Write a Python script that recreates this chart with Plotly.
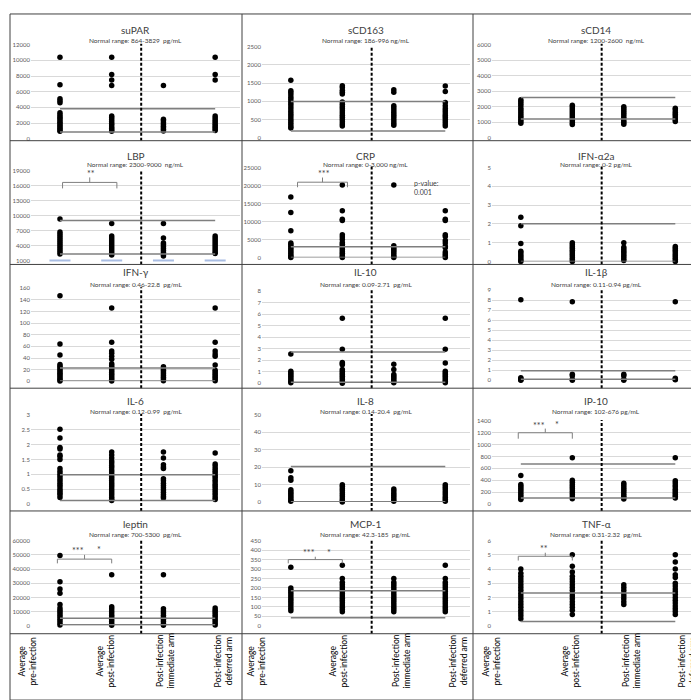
import plotly.graph_objects as go

# ---- data ----
SUPAR_PRE = [10400, 6900, 5100, 4850, 4600, 3300, 3050, 2800, 2600, 2350, 2100, 1900, 1700, 1500, 1300, 1100, 950]
SUPAR_POST = [10400, 8200, 7500, 6800, 2900, 2700, 2450, 2200, 1950, 1750, 1500, 1300, 1100, 950]
SUPAR_IMM = [6800, 2500, 2300, 2050, 1800, 1600, 1400, 1200, 1000]
SUPAR_DEF = [10400, 8200, 7500, 2900, 2650, 2400, 2150, 1900, 1700, 1450, 1250, 1050]

SCD163_PRE = [1580, 1290, 1240, 1180, 1110, 1050, 980, 920, 850, 790, 720, 660, 600, 540, 480, 420, 360, 300, 270]
SCD163_POST = [1430, 1380, 1300, 1250, 1200, 980, 920, 860, 800, 740, 680, 620, 560, 500, 440, 380, 320]
SCD163_IMM = [1320, 1250, 880, 820, 760, 700, 640, 580, 520, 460, 400, 340]
SCD163_DEF = [1420, 1270, 970, 880, 800, 740, 680, 620, 560, 500, 440, 380, 320]

SCD14_PRE = [2450, 2330, 2200, 2080, 1920, 1800, 1680, 1550, 1420, 1300, 1180, 1060, 930]
SCD14_POST = [2100, 1980, 1850, 1720, 1600, 1470, 1340, 1210, 1090, 960, 860]
SCD14_IMM = [2000, 1880, 1750, 1620, 1490, 1360, 1230, 1100, 980, 870]
SCD14_DEF = [1900, 1780, 1650, 1520, 1400, 1280, 1160, 1050]

LBP_PRE = [9300, 6700, 6300, 5900, 5500, 5100, 4700, 4300, 3900, 3500, 3100, 2700, 2300]
LBP_POST = [8400, 5900, 5500, 5100, 4700, 4300, 3900, 3500, 3100, 2700, 2300, 2100]
LBP_IMM = [8400, 5500, 4500, 4200, 3800, 3400, 3000, 2600, 2200, 1900]
LBP_DEF = [5900, 5500, 5100, 4700, 4300, 3900, 3500, 3100, 2700, 2400]
LBP_BASE = [1000, 1000, 1000, 1000]

CRP_PRE = [16800, 12500, 7400, 4000, 3600, 3100, 2600, 2100, 1600, 1100, 600, 200, 0]
CRP_POST = [20100, 13000, 10600, 10300, 6300, 5700, 5000, 4200, 3700, 3200, 2700, 2200, 1700, 1200, 700, 300, 0]
CRP_IMM = [20100, 3300, 2800, 2300, 1800, 1300, 800, 300, 0]
CRP_DEF = [13000, 10600, 10300, 6300, 5800, 4700, 4000, 3100, 2700, 1500, 1000, 500, 0]

IFNA_PRE = [2.35, 1.9, 0.95, 0.55, 0.45, 0.35, 0.25, 0.15, 0.05, 0.0]
IFNA_POST = [1.0, 0.9, 0.8, 0.7, 0.6, 0.5, 0.4, 0.3, 0.2, 0.1, 0.0]
IFNA_IMM = [1.0, 0.75, 0.65, 0.55, 0.45, 0.35, 0.25, 0.15, 0.05]
IFNA_DEF = [0.8, 0.7, 0.6, 0.5, 0.4, 0.3, 0.2, 0.1, 0.0]

IFNG_PRE = [147, 64, 45, 29, 26, 23, 20, 17, 14, 11, 8, 5, 2, 0.5]
IFNG_POST = [126, 67, 52, 48, 43, 38, 30, 27, 24, 21, 18, 15, 12, 9, 6, 3, 0.5]
IFNG_IMM = [25, 22, 19, 16, 13, 10, 7, 4, 1]
IFNG_DEF = [126, 67, 52, 47, 43, 28, 19, 16, 13, 10, 7, 4, 1]

IL10_PRE = [2.55, 1.05, 0.9, 0.75, 0.6, 0.45, 0.3, 0.15, 0.05]
IL10_POST = [5.65, 2.95, 1.8, 1.7, 1.6, 1.2, 1.05, 0.9, 0.75, 0.6, 0.45, 0.3, 0.15, 0.0]
IL10_IMM = [1.65, 1.2, 0.75, 0.6, 0.45, 0.3, 0.15, 0.05]
IL10_DEF = [5.65, 2.95, 1.75, 1.05, 0.9, 0.75, 0.6, 0.45, 0.3, 0.15, 0.05]

IL1B_PRE = [8.05, 0.25, 0.15, 0.05, 0.0]
IL1B_POST = [7.85, 0.6, 0.45, 0.1, 0.0]
IL1B_IMM = [0.6, 0.45, 0.1, 0.0]
IL1B_DEF = [7.85, 0.2, 0.1, 0.05]

IL6_PRE = [2.52, 2.22, 1.9, 1.85, 1.65, 1.6, 1.5, 1.2, 1.1, 1.02, 0.95, 0.88, 0.8, 0.72, 0.65,
           0.58, 0.5, 0.43, 0.36, 0.3, 0.22]
IL6_POST = [1.75, 1.65, 1.55, 1.45, 1.38, 1.3, 1.23, 1.15, 1.08, 1.0, 0.93, 0.86, 0.79, 0.72,
            0.65, 0.58, 0.51, 0.44, 0.37, 0.3, 0.23, 0.16, 0.12]
IL6_IMM = [1.75, 1.55, 1.32, 1.25, 1.2, 0.85, 0.78, 0.7, 0.62, 0.55, 0.47, 0.4, 0.32, 0.25, 0.2]
IL6_DEF = [1.72, 1.35, 1.28, 1.2, 1.12, 1.05, 0.97, 0.9, 0.82, 0.75, 0.67, 0.6, 0.52, 0.45,
           0.37, 0.3, 0.22, 0.15]

IL8_PRE = [18, 14, 12.5, 7, 6, 5, 4, 3, 2, 1, 0.5]
IL8_POST = [10, 9, 7.8, 6.6, 5.4, 4.2, 3, 1.8, 0.6, 0]
IL8_IMM = [7.5, 6.3, 5.1, 3.9, 2.7, 1.5, 0.5]
IL8_DEF = [10, 8.8, 7.6, 6.4, 5.2, 4, 2.8, 1.6, 0.5]

IP10_PRE = [480, 330, 300, 265, 230, 195, 160, 125, 95, 75]
IP10_POST = [780, 400, 365, 330, 295, 260, 225, 190, 155, 120, 90]
IP10_IMM = [350, 315, 280, 245, 210, 175, 140, 110, 85]
IP10_DEF = [780, 390, 360, 320, 290, 250, 220, 190, 160, 130, 100]

LEPTIN_PRE = [49500, 31000, 26000, 23000, 15000, 12500, 11000, 9500, 8000, 6500, 5000, 3500, 2000, 500]
LEPTIN_POST = [36000, 13500, 12000, 10500, 9000, 7500, 6000, 4500, 3000, 1500, 300]
LEPTIN_IMM = [36000, 12000, 10500, 9000, 7500, 6000, 4500, 3000, 1500, 300]
LEPTIN_DEF = [12500, 11000, 9500, 8000, 6500, 5000, 3500, 2000, 500]

MCP1_PRE = [310, 200, 188, 176, 164, 152, 140, 128, 116, 104, 92, 80]
MCP1_POST = [320, 250, 230, 218, 206, 194, 182, 170, 158, 146, 134, 122, 110, 98, 86, 74]
MCP1_IMM = [250, 230, 218, 206, 194, 182, 170, 158, 146, 134, 122, 110, 98, 86, 74]
MCP1_DEF = [320, 250, 230, 218, 206, 194, 182, 170, 158, 146, 134, 122, 110, 98, 86, 74]

TNF_PRE = [4.0, 3.7, 3.5, 3.3, 3.1, 2.9, 2.7, 2.5, 2.3, 2.1, 1.9, 1.7, 1.5, 1.3, 1.1, 0.9, 0.7, 0.5]
TNF_POST = [5.0, 4.2, 3.8, 3.5, 3.3, 3.1, 2.9, 2.7, 2.5, 2.3, 2.1, 1.9, 1.7, 1.5, 1.3, 1.1, 0.8]
TNF_IMM = [2.9, 2.7, 2.5, 2.3, 2.1, 1.9, 1.7, 1.5]
TNF_DEF = [5.0, 4.5, 4.0, 3.6, 3.4, 3.0, 2.8, 2.6, 2.4, 2.2, 2.0, 1.8, 1.6, 1.4, 1.2, 1.0, 0.8]

CATEGORIES = ["Average<br>pre-infection", "Average<br>post-infection",
              "Post-infection<br>immediate arm", "Post-infection<br>deferred arm"]

TITLES = ["suPAR", "sCD163", "sCD14", "LBP", "CRP", "IFN-α2a", "IFN-γ", "IL-10", "IL-1β",
          "IL-6", "IL-8", "IP-10", "leptin", "MCP-1", "TNF-α"]
NORMAL_TEXT = ["864-3829  pg/mL", "186-996 ng/mL", "1200-2600  ng/mL", "2300-9000  ng/mL",
               "0-3,000 ng/mL", "0-2 pg/mL", "0.46-22.8  pg/mL", "0.09-2.71  pg/mL",
               "0.11-0.94 pg/mL", "0.12-0.99  pg/mL", "0.14-20.4  pg/mL", "102-676 pg/mL",
               "700-5300  pg/mL", "42.3-185  pg/mL", "0.31-2.32  pg/mL"]
NORMAL_LO = [864, 186, 1200, 2300, 0, 0, 0.46, 0.09, 0.11, 0.12, 0.14, 102, 700, 42.3, 0.31]
NORMAL_HI = [3829, 996, 2600, 9000, 3000, 2, 22.8, 2.71, 0.94, 0.99, 20.4, 676, 5300, 185, 2.32]
Y_MIN = [0, 0, 0, 1000, 0, 0, 0, 0, 0, 0, 0, 0, 0, 0, 0]
Y_MAX = [12000, 2500, 6000, 19000, 25000, 5, 160, 8, 9, 3, 50, 1400, 60000, 450, 6]
Y_STEP = [2000, 500, 1000, 3000, 5000, 1, 20, 1, 1, 0.5, 10, 200, 10000, 50, 1]

PANEL_DATA = [
    [SUPAR_PRE, SUPAR_POST, SUPAR_IMM, SUPAR_DEF],
    [SCD163_PRE, SCD163_POST, SCD163_IMM, SCD163_DEF],
    [SCD14_PRE, SCD14_POST, SCD14_IMM, SCD14_DEF],
    [LBP_PRE, LBP_POST, LBP_IMM, LBP_DEF],
    [CRP_PRE, CRP_POST, CRP_IMM, CRP_DEF],
    [IFNA_PRE, IFNA_POST, IFNA_IMM, IFNA_DEF],
    [IFNG_PRE, IFNG_POST, IFNG_IMM, IFNG_DEF],
    [IL10_PRE, IL10_POST, IL10_IMM, IL10_DEF],
    [IL1B_PRE, IL1B_POST, IL1B_IMM, IL1B_DEF],
    [IL6_PRE, IL6_POST, IL6_IMM, IL6_DEF],
    [IL8_PRE, IL8_POST, IL8_IMM, IL8_DEF],
    [IP10_PRE, IP10_POST, IP10_IMM, IP10_DEF],
    [LEPTIN_PRE, LEPTIN_POST, LEPTIN_IMM, LEPTIN_DEF],
    [MCP1_PRE, MCP1_POST, MCP1_IMM, MCP1_DEF],
    [TNF_PRE, TNF_POST, TNF_IMM, TNF_DEF],
]

# significance brackets: panel, x-left, x-right, y-ends, y-top, y-tick, stars, stars-x, stars-y
BRACKETS = [
    (3, 1.05, 2.1, 15400, 16600, 17600, "**", 1.6, 18400),
    (4, 1.13, 2.1, 19500, 20900, 22200, "***", 1.65, 23400),
    (11, 0.95, 2.0, 1100, 1200, 1270, "***", 1.35, 1330),
    (12, 0.95, 2.0, 44000, 47000, 50000, "***", 1.35, 53000),
    (13, 0.95, 2.0, 330, 350, 365, "***", 1.35, 385),
    (14, 0.95, 2.0, 4.6, 4.9, 5.15, "**", 1.45, 5.45),
]
EXTRA_STARS = [(11, 1.7, 1340), (12, 1.75, 54000), (13, 1.75, 390)]

# ---- geometry (pixels) ----
W, H = 699, 700
COL_EDGES = [2, 234, 465, 697]
ROW_EDGES = [2, 130, 255, 380, 504, 628]
BOTTOM = 695
PANEL_TOP = [33, 35, 33, 160, 157, 157, 279, 282, 281, 407, 407, 413, 534, 534, 534]
PANEL_BOTTOM = [128, 127, 127, 251, 248, 252, 373, 375, 372, 497, 495, 497, 620, 620, 620]
TITLE_Y = [18, 145, 263, 393, 517]
SUB_Y = [29, 154, 275, 404, 528]
PLOT_LEFT = [23, 254, 484]
PLOT_RIGHT = [232, 462, 692]
LABEL_X = [[19, 97, 157, 215], [248, 330, 393, 450], [483, 562, 623, 679]]
LABEL_Y = 656
DASH_X = 2.57


def fx(p):
    return p / W


def fy(p):
    return 1 - p / H


FONT = "Lato, Liberation Sans, sans-serif"
TXT = "#404040"

fig = go.Figure()
shapes = []
annotations = []
layout = {}

for i, groups in enumerate(PANEL_DATA):
    r, c = divmod(i, 3)
    k = i + 1
    xa = "xaxis" if k == 1 else f"xaxis{k}"
    ya = "yaxis" if k == 1 else f"yaxis{k}"
    xr = "x" if k == 1 else f"x{k}"
    yr = "y" if k == 1 else f"y{k}"

    xs, ys = [], []
    for g, vals in enumerate(groups):
        xs += [g + 1] * len(vals)
        ys += vals
    fig.add_trace(go.Scatter(x=xs, y=ys, mode="markers", xaxis=xr, yaxis=yr,
                             marker=dict(color="black", size=5.5), cliponaxis=False,
                             showlegend=False, hoverinfo="y"))
    if TITLES[i] == "LBP":
        fig.add_trace(go.Scatter(x=[1, 2, 3, 4], y=LBP_BASE, mode="markers", xaxis=xr, yaxis=yr,
                                 marker=dict(symbol="line-ew-open", size=15, color="#a9bde3",
                                             line=dict(color="#a9bde3", width=2)),
                                 cliponaxis=False, showlegend=False, hoverinfo="skip"))

    layout[xa] = dict(domain=[fx(PLOT_LEFT[c]), fx(PLOT_RIGHT[c])], range=[0.44, 4.48],
                      showgrid=False, zeroline=False, showticklabels=False, fixedrange=True,
                      anchor=yr)
    layout[ya] = dict(domain=[fy(PANEL_BOTTOM[i]), fy(PANEL_TOP[i])],
                      range=[Y_MIN[i], Y_MAX[i]], tickmode="linear", tick0=Y_MIN[i],
                      dtick=Y_STEP[i], tickformat="d" if Y_STEP[i] >= 1 else "",
                      showgrid=True, gridcolor="#d9d9d9", gridwidth=1, zeroline=False,
                      tickfont=dict(size=6, color="#595959", family=FONT), ticks="",
                      anchor=xr, fixedrange=True)

    # normal range lines
    for v in (NORMAL_LO[i], NORMAL_HI[i]):
        shapes.append(dict(type="line", xref=xr, yref=yr, x0=1, x1=4, y0=v, y1=v,
                           line=dict(color="#7f7f7f", width=1.5)))
    # dashed divider between average and per-arm groups
    shapes.append(dict(type="line", xref=xr, yref="paper", x0=DASH_X, x1=DASH_X,
                       y0=fy(ROW_EDGES[r + 1]), y1=fy(PANEL_TOP[i] - 1),
                       line=dict(color="black", width=2, dash="3px,2px")))

    cx = fx((PLOT_LEFT[c] + PLOT_RIGHT[c]) / 2)
    annotations.append(dict(text=TITLES[i], x=cx, y=fy(TITLE_Y[r]), xref="paper",
                            yref="paper", showarrow=False, xanchor="center", yanchor="middle",
                            font=dict(size=10, color=TXT, family=FONT)))
    annotations.append(dict(text="Normal range: " + NORMAL_TEXT[i], x=cx, y=fy(SUB_Y[r]),
                            xref="paper", yref="paper", showarrow=False, xanchor="center",
                            yanchor="middle", font=dict(size=6.5, color=TXT, family=FONT)))

for (i, x0, x1, ye, yt, ytk, stars, sx, sy) in BRACKETS:
    k = i + 1
    xr = "x" if k == 1 else f"x{k}"
    yr = "y" if k == 1 else f"y{k}"
    xm = (x0 + x1) / 2
    shapes.append(dict(type="path", xref=xr, yref=yr,
                       path=f"M {x0},{ye} L {x0},{yt} L {x1},{yt} L {x1},{ye} M {xm},{yt} L {xm},{ytk}",
                       line=dict(color="#7f7f7f", width=1)))
    annotations.append(dict(text=stars, x=sx, y=sy, xref=xr, yref=yr, showarrow=False,
                            font=dict(size=9, color=TXT, family=FONT)))
for (i, sx, sy) in EXTRA_STARS:
    k = i + 1
    annotations.append(dict(text="*", x=sx, y=sy, xref=f"x{k}", yref=f"y{k}", showarrow=False,
                            font=dict(size=9, color=TXT, family=FONT)))

annotations.append(dict(text="p-value:<br>0.001", x=3.35, y=19500, xref="x5", yref="y5",
                        showarrow=False, xanchor="left", yanchor="middle", align="left",
                        font=dict(size=7, color=TXT, family=FONT)))

# category labels along the bottom strip
for c in range(3):
    for g, lab in enumerate(CATEGORIES):
        annotations.append(dict(text=lab, x=fx(LABEL_X[c][g]), y=fy(LABEL_Y), xref="paper",
                                yref="paper", showarrow=False, textangle=-90,
                                xanchor="center", yanchor="middle",
                                font=dict(size=8.5, color="black", family=FONT)))

# panel frame
frame = dict(color="#404040", width=1)
shapes.append(dict(type="rect", xref="paper", yref="paper", x0=fx(2), x1=fx(697),
                   y0=fy(BOTTOM), y1=fy(2), line=frame))
for xe in COL_EDGES[1:3]:
    shapes.append(dict(type="line", xref="paper", yref="paper", x0=fx(xe), x1=fx(xe),
                       y0=fy(BOTTOM), y1=fy(2), line=frame))
for ye in ROW_EDGES[1:]:
    shapes.append(dict(type="line", xref="paper", yref="paper", x0=fx(2), x1=fx(697),
                       y0=fy(ye), y1=fy(ye), line=frame))

fig.update_layout(width=W, height=H, margin=dict(l=0, r=0, t=0, b=0),
                  paper_bgcolor="white", plot_bgcolor="white",
                  shapes=shapes, annotations=annotations, **layout)
fig.write_html("out.html")
